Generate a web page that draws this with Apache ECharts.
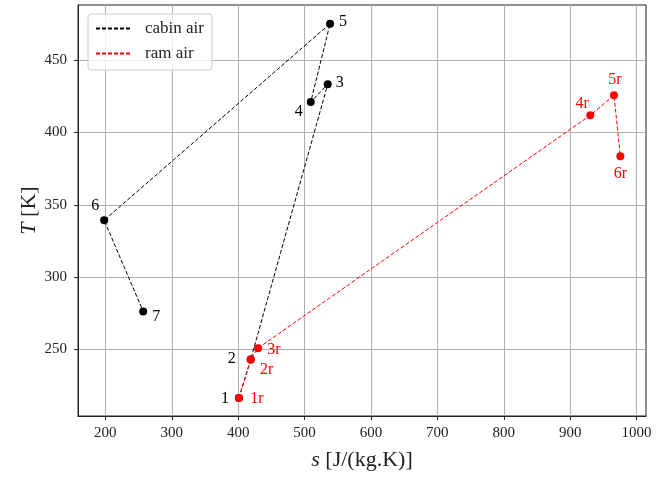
<!DOCTYPE html>
<html>
<head>
<meta charset="utf-8">
<script src="https://cdn.jsdelivr.net/npm/echarts@6/dist/echarts.min.js"></script>
<style>
html,body{margin:0;padding:0;background:#fff;}
#chart{width:671px;height:479px;}
</style>
</head>
<body>
<div id="chart"></div>
<script>
// ---- data ----
const cabinNames = ['1', '2', '3', '4', '5', '6', '7'];
const cabinS = [401.2, 418.9, 534.9, 509.3, 538.4, 198.2, 257.0];
const cabinT = [216.4, 243.0, 433.4, 421.1, 475.3, 339.3, 276.2];

const ramNames = ['1r', '2r', '3r', '4r', '5r', '6r'];
const ramS = [401.2, 418.9, 429.9, 930.3, 966.0, 975.6];
const ramT = [216.4, 243.0, 250.8, 411.9, 425.8, 383.6];

const xTicks = [200, 300, 400, 500, 600, 700, 800, 900, 1000];
const yTicks = [250, 300, 350, 400, 450];

// ---- label placement (pixel offsets from each point) ----
const cabinLabelOffsets = [[-14, 1], [-19, -1], [12, -1], [-12, 10], [13, -2], [-9, -14], [13, 5]];
const ramLabelOffsets = [[18, 1], [16, 10], [16, 2], [-8, -12], [1, -15], [0, 18]];

const FONT = 'Liberation Serif';

function pts(xs, ys) { return xs.map((x, i) => [x, ys[i]]); }
function labeled(xs, ys, names, offs, color) {
  return xs.map((x, i) => ({
    value: [x, ys[i]],
    label: {
      show: true, formatter: names[i], position: 'inside', offset: offs[i],
      color: color, fontFamily: FONT, fontSize: 16, align: 'center', verticalAlign: 'middle'
    }
  }));
}

const chart = echarts.init(document.getElementById('chart'), null, {renderer: 'canvas'});
const dash = [4, 2];

chart.setOption({
  animation: false,
  backgroundColor: '#fff',
  grid: {left: 78, right: 25, top: 5, bottom: 63, show: true, borderColor: '#222', borderWidth: 1, backgroundColor: 'transparent'},
  legend: {
    orient: 'vertical', left: 88, top: 14,
    data: ['cabin air', 'ram air'],
    itemWidth: 36, itemHeight: 13, itemGap: 8,
    itemStyle: {opacity: 0},
    padding: [6, 8, 8, 7],
    backgroundColor: 'rgba(255,255,255,0.8)',
    borderColor: '#cccccc', borderWidth: 1, borderRadius: 3,
    textStyle: {fontFamily: FONT, fontSize: 17, color: '#222', lineHeight: 16, padding: [0, 0, 0, 8]}
  },
  xAxis: {
    type: 'value', min: 158.8, max: 1014.2,
    name: '{it|s} [J/(kg.K)]', nameLocation: 'middle', nameGap: 33, nameMoveOverlap: false,
    nameTextStyle: {fontFamily: FONT, fontSize: 22, color: '#222', rich: {it: {fontFamily: FONT, fontSize: 22, fontStyle: 'italic', color: '#222'}}},
    axisLine: {show: true, lineStyle: {color: '#222', width: 1}},
    axisTick: {show: true, length: 4, inside: false, customValues: xTicks, lineStyle: {color: '#222'}},
    axisLabel: {customValues: xTicks, fontFamily: FONT, fontSize: 15, color: '#222', margin: 10, formatter: v => String(v)},
    splitLine: {show: true, lineStyle: {color: '#b0b0b0', width: 1}}
  },
  yAxis: {
    type: 'value', min: 203.9, max: 488.2,
    name: '{it|T} [K]', nameLocation: 'middle', nameGap: 38, nameMoveOverlap: false,
    nameTextStyle: {fontFamily: FONT, fontSize: 22, color: '#222', rich: {it: {fontFamily: FONT, fontSize: 22, fontStyle: 'italic', color: '#222'}}},
    axisLine: {show: true, lineStyle: {color: '#222', width: 1}},
    axisTick: {show: true, length: 4, inside: false, customValues: yTicks, lineStyle: {color: '#222'}},
    axisLabel: {customValues: yTicks, fontFamily: FONT, fontSize: 15, color: '#222', margin: 11, formatter: v => String(v)},
    splitLine: {show: true, lineStyle: {color: '#b0b0b0', width: 1}}
  },
  series: [
    {name: 'cabin air', type: 'line', data: pts(cabinS, cabinT), symbol: 'none', z: 2,
     lineStyle: {color: '#000', width: 1, type: dash}, itemStyle: {color: '#000'}},
    {name: 'cabin pts', type: 'scatter', data: labeled(cabinS, cabinT, cabinNames, cabinLabelOffsets, '#000'),
     symbolSize: 8, itemStyle: {color: '#000', opacity: 1}, z: 3},
    {name: 'ram air', type: 'line', data: pts(ramS, ramT), symbol: 'none', z: 4,
     lineStyle: {color: '#ff0000', width: 1, type: dash}, itemStyle: {color: '#ff0000'}},
    {name: 'ram pts', type: 'scatter', data: labeled(ramS, ramT, ramNames, ramLabelOffsets, '#ff0000'),
     symbolSize: 8, itemStyle: {color: '#ff0000', opacity: 1}, z: 5}
  ]
});
</script>
</body>
</html>
